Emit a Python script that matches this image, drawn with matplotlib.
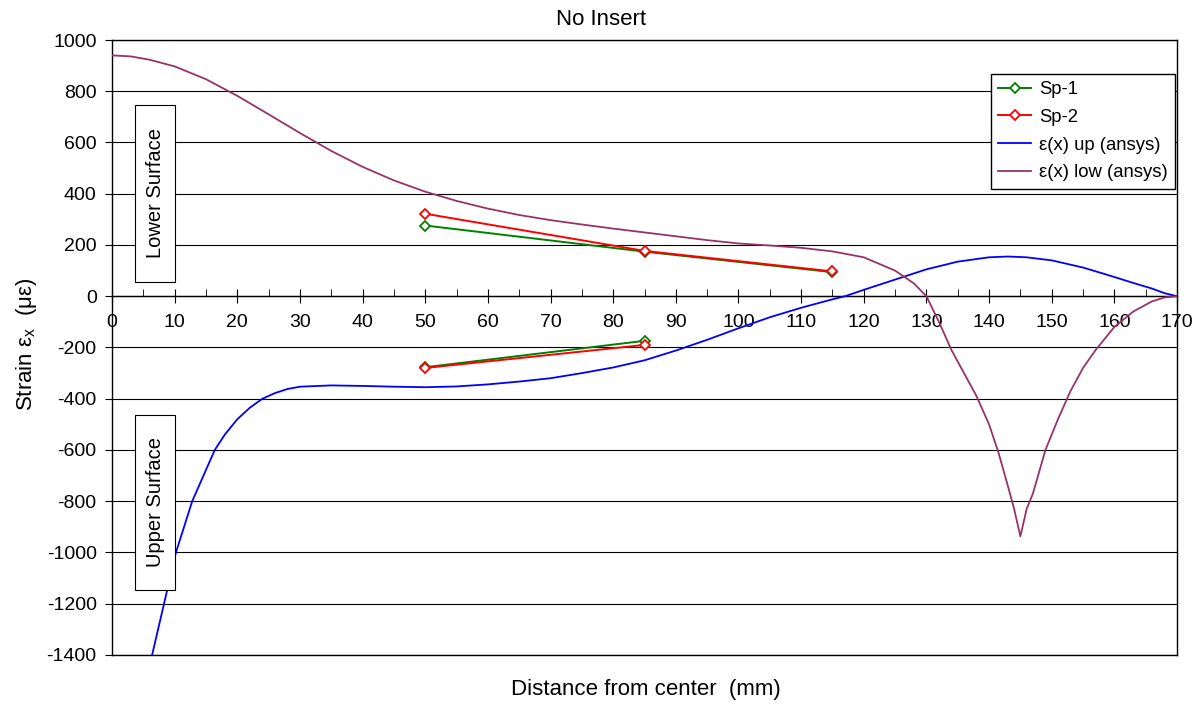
import numpy as np
from matplotlib import pyplot as plt
from matplotlib.ticker import MultipleLocator
from matplotlib.patches import Rectangle

# measured gauge points (lower surface: 50/85/115 mm, upper surface: 50/85 mm)
gauge_x_low = [50, 85, 115]
gauge_x_up = [50, 85]
sp1_low = [276, 174, 94]
sp1_up = [-277, -174]
sp2_low = [322, 177, 97]
sp2_up = [-280, -190]

# ansys curves
up_x = [6.4, 8.3, 10.2, 12.8, 16.4, 18, 20, 22, 24, 26, 28, 30, 35, 40, 45, 50, 55, 60, 65,
        70, 75, 80, 85, 90, 95, 100, 105, 110, 115, 117, 120, 125, 130, 135, 140, 143, 146,
        150, 155, 158, 160, 163, 166, 168, 170]
up_y = [-1400, -1200, -1000, -800, -600, -540, -480, -435, -400, -378, -362, -353, -348, -350,
        -353, -355, -352, -344, -333, -320, -300, -278, -250, -212, -170, -125, -82, -45, -12,
        0, 25, 65, 105, 135, 152, 155, 152, 140, 112, 90, 75, 52, 30, 12, 0]

low_x = [0, 3, 6, 10, 15, 20, 25, 30, 35, 40, 45, 50, 55, 60, 65, 70, 75, 80, 85, 90, 95, 100,
         105, 110, 115, 120, 125, 128, 130, 132, 134, 136, 138, 140, 141.5, 143, 144, 145, 146,
         147, 149, 151, 153, 155, 157, 160, 163, 166, 168, 170]
low_y = [940, 936, 923, 897, 847, 782, 710, 637, 567, 505, 452, 408, 372, 342, 317, 297, 280,
         264, 249, 234, 219, 206, 198, 189, 175, 152, 100, 50, 0, -100, -210, -300, -390, -500,
         -610, -740, -830, -937, -830, -770, -600, -480, -370, -280, -210, -120, -60, -20, -5, 0]

nan = float('nan')
sp_x = gauge_x_low + [nan] + gauge_x_up
sp1 = sp1_low + [nan] + sp1_up
sp2 = sp2_low + [nan] + sp2_up

plt.rcParams['font.family'] = ['Liberation Sans', 'DejaVu Sans']
plt.rcParams['axes.unicode_minus'] = False

fig = plt.figure(figsize=(12.02, 7.08), dpi=100)
ax = fig.add_axes([0.0932, 0.0749, 0.8860, 0.8686])

ax.plot(sp_x, sp1, c='#008000', lw=1.4, marker='D', ms=5.5, mfc='white', mec='#008000',
        mew=1.3, label='Sp-1', zorder=4)
ax.plot(sp_x, sp2, c='#ff0000', lw=1.4, marker='D', ms=5.5, mfc='white', mec='#ff0000',
        mew=1.3, label='Sp-2', zorder=5)
ax.plot(up_x, up_y, c='#0000ff', lw=1.3, label='ε(x) up (ansys)', zorder=3)
ax.plot(low_x, low_y, c='#993366', lw=1.3, label='ε(x) low (ansys)', zorder=3)

ax.set_xlim(0, 170)
ax.set_ylim(-1400, 1000)
ax.yaxis.set_major_locator(MultipleLocator(200))
ax.xaxis.set_major_locator(MultipleLocator(10))
ax.xaxis.set_minor_locator(MultipleLocator(5))
ax.grid(axis='y', color='black', lw=0.8)
ax.axhline(-1400, color='black', lw=1, clip_on=False)

ax.spines['bottom'].set_position(('data', 0))
for s in ax.spines.values():
    s.set_linewidth(1)
ax.tick_params(axis='x', which='major', direction='inout', length=10, labelsize=14, pad=8)
ax.tick_params(axis='x', which='minor', direction='in', length=5)
ax.tick_params(axis='y', direction='out', length=5, labelsize=14, pad=6)

fig.text(0.5, 0.972, 'No Insert', ha='center', va='center', fontsize=16)
fig.text(0.537, 0.026, 'Distance from center  (mm)', ha='center', va='center', fontsize=16)
fig.text(0.022, 0.513, 'Strain ε$_{\\mathregular{x}}$  (με)', rotation=90, va='center',
         ha='center', fontsize=16)

# annotation boxes (axes fraction)
for y0, h, label in [(0.6065, 0.2878, 'Lower Surface'), (0.1057, 0.2846, 'Upper Surface')]:
    ax.add_patch(Rectangle((0.0216, y0), 0.0376, h, transform=ax.transAxes, fc='white',
                           ec='black', lw=0.8, zorder=6))
    ax.text(0.0216 + 0.0188, y0 + h / 2, label, transform=ax.transAxes, rotation=90,
            ha='center', va='center', fontsize=14.5, zorder=7)

leg = ax.legend(loc='upper right', bbox_to_anchor=(0.998, 0.945), fontsize=13.3,
                fancybox=False, framealpha=1, edgecolor='black', handlelength=1.8,
                borderaxespad=0, labelspacing=0.58, handletextpad=0.4, borderpad=0.4)
leg.get_frame().set_linewidth(1)

plt.savefig('out.png', dpi=100)
